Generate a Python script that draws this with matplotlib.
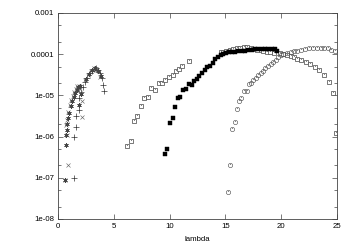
import matplotlib
matplotlib.use('Agg')
import matplotlib.pyplot as plt
import numpy as np
from matplotlib.ticker import FixedLocator, NullFormatter

# Data (lambda, value)
plus_x = [1.41, 1.46, 1.61, 1.61, 1.88, 1.88, 2.06, 2.24, 2.42, 2.63, 2.82, 3.02, 3.20, 3.41, 3.58, 3.76, 3.92, 4.06, 4.15]
plus_y = [1.0e-7, 1.0e-6, 1.7e-6, 3.2e-6, 4.5e-6, 8.5e-6, 1.2e-5, 1.6e-5, 2.1e-5, 2.7e-5, 3.4e-5, 3.9e-5, 4.4e-5, 4.5e-5,
          4.2e-5, 3.4e-5, 2.6e-5, 1.8e-5, 1.3e-5]

cross_x = [0.63, 0.92, 0.81, 2.18, 2.12, 0.67, 0.76, 0.90, 1.03, 1.16, 1.30, 1.43, 1.57, 1.70, 1.84, 1.97,
           2.42, 2.69, 2.96, 3.23, 3.49, 3.76]
cross_y = [9.0e-8, 2.0e-7, 1.1e-6, 3.0e-6, 7.1e-6, 1.9e-6, 2.5e-6, 4.0e-6, 5.9e-6, 7.8e-6, 9.8e-6, 1.2e-5, 1.45e-5,
           1.65e-5, 1.7e-5, 1.45e-5, 2.4e-5, 3.2e-5, 3.9e-5, 4.7e-5, 4.2e-5, 2.8e-5]

star_x = [0.63, 0.69, 0.72, 0.76, 0.81, 0.90, 0.99, 1.12, 1.25, 1.39, 1.52, 1.66, 1.79, 1.93, 2.02, 1.88,
          2.51, 2.78, 3.05, 3.32, 3.58, 3.81]
star_y = [9.0e-8, 6.3e-7, 1.1e-6, 1.45e-6, 2.0e-6, 2.8e-6, 3.7e-6, 5.5e-6, 7.2e-6, 9.1e-6, 1.15e-5, 1.35e-5, 1.6e-5,
          1.7e-5, 1.07e-5, 5.9e-6, 2.5e-5, 3.3e-5, 4.2e-5, 4.7e-5, 3.9e-5, 3.0e-5]

osq_x = [6.21, 6.52, 6.81, 7.11, 7.39, 7.73, 8.02, 8.31, 8.67, 9.01, 9.36, 9.61, 9.95, 10.26, 10.57, 10.84, 11.14, 11.76,
         14.58, 14.81, 15.05, 15.37, 15.71, 16.04, 16.35, 16.67, 16.96, 17.25, 17.56, 17.83, 18.15, 18.41, 18.70, 19.00,
         19.35, 19.85, 20.16, 20.49, 20.85, 21.15, 21.44, 21.80, 22.20, 22.60, 23.00, 23.40, 23.85, 24.30, 24.65, 24.95]
osq_y = [6.0e-7, 7.6e-7, 2.4e-6, 3.2e-6, 5.6e-6, 8.7e-6, 9.3e-6, 1.48e-5, 1.38e-5, 2.04e-5, 1.95e-5, 2.4e-5, 2.75e-5,
         3.16e-5, 3.8e-5, 4.4e-5, 5.2e-5, 6.8e-5,
         1.1e-4, 1.15e-4, 1.17e-4, 1.23e-4, 1.32e-4, 1.38e-4, 1.41e-4, 1.48e-4, 1.48e-4, 1.38e-4, 1.35e-4, 1.29e-4,
         1.23e-4, 1.17e-4, 1.1e-4, 1.1e-4, 1.07e-4, 1.05e-4, 1.02e-4, 9.8e-5, 9.1e-5, 8.3e-5, 7.6e-5, 7.1e-5, 6.3e-5,
         5.75e-5, 4.9e-5, 4.1e-5, 3.2e-5, 2.1e-5, 1.15e-5, 1.23e-6]

fsq_x = [9.59, 9.79, 10.04, 10.26, 10.48, 10.73, 10.93, 11.23, 11.47, 11.74, 11.99, 12.19, 12.44, 12.66, 12.90, 13.15,
         13.38, 13.62, 13.86, 14.09, 14.34, 14.58, 14.81, 15.05, 15.30, 15.56, 15.86, 16.16, 16.46, 16.76, 17.05, 17.36,
         17.65, 17.95, 18.25, 18.55, 18.84, 19.15, 19.44, 19.60]
fsq_y = [3.8e-7, 5.0e-7, 2.1e-6, 2.75e-6, 5.2e-6, 8.7e-6, 9.1e-6, 1.38e-5, 1.41e-5, 1.86e-5, 1.78e-5, 2.2e-5, 2.5e-5,
         2.95e-5, 3.55e-5, 4.2e-5, 5.0e-5, 5.25e-5, 6.0e-5, 7.6e-5, 8.3e-5, 9.3e-5, 1.0e-4, 1.05e-4, 1.1e-4, 1.12e-4,
         1.15e-4, 1.17e-4, 1.17e-4, 1.2e-4, 1.26e-4, 1.29e-4, 1.32e-4, 1.32e-4, 1.35e-4, 1.35e-4, 1.35e-4, 1.35e-4,
         1.32e-4, 1.2e-4]

circ_x = [15.26, 15.41, 15.62, 15.86, 16.07, 16.26, 16.42, 16.67, 16.91, 17.09, 17.29, 17.47, 17.70, 17.92, 18.15, 18.37,
          18.59, 18.82, 19.04, 19.27, 19.49, 19.71, 19.94, 20.19, 20.55, 20.85, 21.15, 21.44, 21.80, 22.16, 22.52, 22.88,
          23.18, 23.54, 23.86, 24.19, 24.49, 24.79]
circ_y = [4.6e-8, 2.1e-7, 1.55e-6, 2.2e-6, 4.7e-6, 7.2e-6, 8.5e-6, 1.29e-5, 1.29e-5, 1.86e-5, 2.04e-5, 2.35e-5, 2.7e-5,
          3.1e-5, 3.55e-5, 4.0e-5, 4.5e-5, 5.1e-5, 5.75e-5, 6.6e-5, 7.2e-5, 8.3e-5, 9.3e-5, 1.0e-4, 1.05e-4, 1.12e-4,
          1.17e-4, 1.2e-4, 1.26e-4, 1.32e-4, 1.38e-4, 1.41e-4, 1.45e-4, 1.45e-4, 1.41e-4, 1.38e-4, 1.29e-4, 1.2e-4]

y_ticks = [1e-8, 1e-7, 1e-6, 1e-5, 1e-4, 1e-3]
y_labels = ['1e-08', '1e-07', '1e-06', '1e-05', '0.0001', '0.001']
x_ticks = [0, 5, 10, 15, 20, 25]

plt.rcParams['font.family'] = ['Liberation Sans', 'DejaVu Sans']
fs = 5.6
edge = '#444444'

fig = plt.figure(figsize=(3.54, 2.49), dpi=100)
ax = fig.add_axes([0.164, 0.1205, 0.788, 0.8275])

ax.plot(plus_x, plus_y, ls='none', marker='+', ms=3.8, mew=0.5, color='#333333')
ax.plot(cross_x, cross_y, ls='none', marker='x', ms=2.8, mew=0.45, color='#666666')
ax.plot(star_x, star_y, ls='none', marker=(6, 2, 0), ms=3.2, mew=0.5, color='#444444')
ax.plot(osq_x, osq_y, ls='none', marker='s', ms=3.0, mew=0.5, mfc='white', mec=edge)
ax.plot(osq_x, osq_y, ls='none', marker=',', color='#888888')
ax.plot(fsq_x, fsq_y, ls='none', marker='s', ms=3.1, mew=0.3, color='black')
ax.plot(circ_x, circ_y, ls='none', marker='o', ms=3.1, mew=0.45, mfc='none', mec='#555555')
ax.plot(circ_x, circ_y, ls='none', marker=',', color='#888888')

ax.set_yscale('log')
ax.set_xlim(0, 25)
ax.set_ylim(1e-8, 1e-3)
ax.xaxis.set_major_locator(FixedLocator(x_ticks))
ax.set_xticklabels([str(t) for t in x_ticks], fontsize=fs)
ax.yaxis.set_major_locator(FixedLocator(y_ticks))
ax.set_yticklabels(y_labels, fontsize=fs)
minor = [m * 10.0 ** e for e in range(-8, -3) for m in (2, 5)]
ax.yaxis.set_minor_locator(FixedLocator(minor))
ax.yaxis.set_minor_formatter(NullFormatter())
ax.xaxis.set_minor_locator(FixedLocator([]))

ax.tick_params(which='both', direction='in', top=True, right=True, color='#444444', width=0.5)
ax.tick_params(which='major', length=3.5, pad=3)
ax.tick_params(which='minor', length=2)
for spine in ax.spines.values():
    spine.set_color('#444444')
    spine.set_linewidth(0.6)

ax.set_xlabel('lambda', fontsize=fs, labelpad=4)

fig.savefig('out.png', dpi=100)
